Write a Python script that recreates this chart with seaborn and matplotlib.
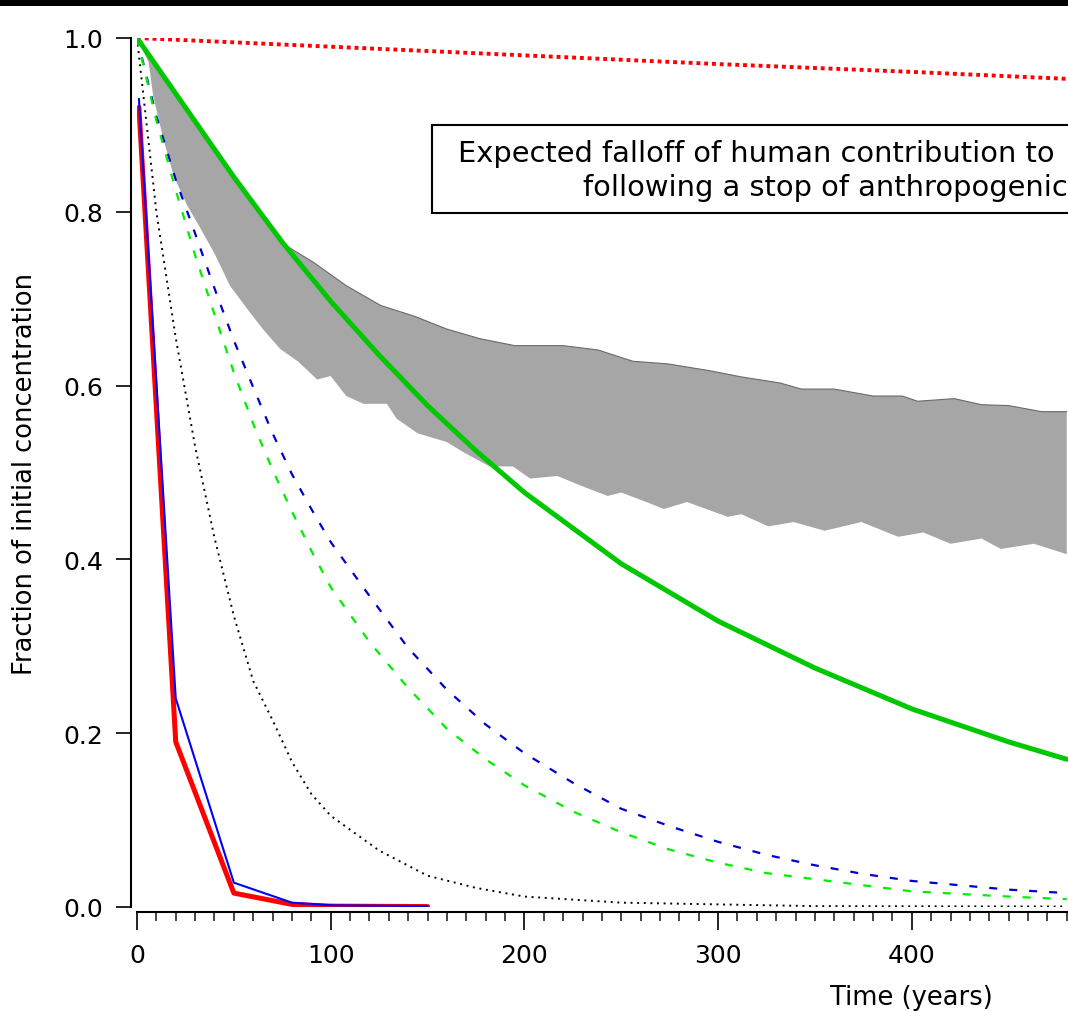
import numpy as np
import pandas as pd
import matplotlib
matplotlib.use("Agg")
import matplotlib.pyplot as plt
from matplotlib.patches import Rectangle
import seaborn as sns

# ---------------- data ----------------
red_dot_t = [0, 100, 200, 300, 400, 480]
red_dot_v = [1.0, 0.99, 0.98, 0.97, 0.961, 0.953]

band_up_t = [0, 25, 50, 74, 91, 108, 126, 143, 160, 177, 195, 220, 238, 256, 274,
             296, 312, 332, 343, 360, 380, 395, 403, 422, 436, 450, 467, 480]
band_up_v = [1.0, 0.92, 0.84, 0.765, 0.742, 0.715, 0.692, 0.68, 0.665, 0.654, 0.646,
             0.646, 0.641, 0.628, 0.625, 0.617, 0.61, 0.603, 0.596, 0.596, 0.588,
             0.588, 0.582, 0.585, 0.578, 0.577, 0.57, 0.57]
band_lo_t = [0, 6, 8.4, 13.6, 19, 26, 33, 40, 48, 57, 65, 74, 83, 93, 100, 108, 117,
             129, 134, 145, 160, 168, 182, 194, 203, 217, 229, 243, 250, 263, 272,
             284, 305, 312, 326, 339, 355, 374, 393, 406, 420, 436, 446, 463, 480]
band_lo_v = [1.0, 0.972, 0.933, 0.884, 0.841, 0.807, 0.78, 0.752, 0.715, 0.688, 0.665,
             0.642, 0.628, 0.607, 0.611, 0.588, 0.579, 0.579, 0.562, 0.545, 0.535,
             0.524, 0.507, 0.507, 0.493, 0.496, 0.485, 0.473, 0.477, 0.466, 0.458,
             0.466, 0.449, 0.452, 0.438, 0.443, 0.433, 0.443, 0.426, 0.431, 0.418,
             0.424, 0.412, 0.418, 0.406]

green_t = [0, 25, 50, 75, 100, 125, 150, 175, 200, 250, 300, 350, 400, 450, 480]
green_v = [1.0, 0.92, 0.84, 0.765, 0.697, 0.635, 0.577, 0.525, 0.477, 0.395, 0.329,
           0.275, 0.228, 0.19, 0.17]

dash_t = [0, 10, 20, 30, 40, 50, 60, 70, 80, 90, 100, 120, 140, 160, 180, 200, 225,
          250, 275, 300, 325, 350, 375, 400, 425, 450, 480]
blue_dash_v = [1.0, 0.91, 0.837, 0.775, 0.712, 0.652, 0.598, 0.545, 0.498, 0.458, 0.42,
               0.358, 0.298, 0.25, 0.21, 0.177, 0.143, 0.113, 0.093, 0.075, 0.06,
               0.048, 0.038, 0.030, 0.025, 0.020, 0.016]
green_dash_v = [1.0, 0.905, 0.825, 0.75, 0.682, 0.615, 0.556, 0.503, 0.455, 0.41, 0.368,
                0.305, 0.252, 0.205, 0.17, 0.14, 0.11, 0.086, 0.066, 0.051, 0.039,
                0.032, 0.025, 0.018, 0.015, 0.012, 0.009]

black_t = [0, 10, 20, 30, 40, 50, 60, 70, 80, 90, 100, 125, 150, 175, 200, 250, 300,
           350, 400, 480]
black_v = [1.0, 0.80, 0.655, 0.53, 0.425, 0.335, 0.26, 0.215, 0.167, 0.13, 0.105, 0.065,
           0.036, 0.022, 0.012, 0.005, 0.003, 0.001, 0.0008, 0.0005]

short_t = [1, 20, 50, 80, 100, 150]
red_v = [0.92, 0.19, 0.016, 0.003, 0.001, 0.0005]
blue_v = [0.93, 0.24, 0.028, 0.005, 0.002, 0.001]

xticks = [0, 100, 200, 300, 400]
yticks = [0.0, 0.2, 0.4, 0.6, 0.8, 1.0]
ylabel = "Fraction of initial concentration"
xlabel = "Time (years)"
title1 = "Expected falloff of human contribution to"
title2 = "following a stop of anthropogenic"

# ---------------- figure ----------------
sns.set_theme(style="ticks")
plt.rcParams["font.family"] = ["DejaVu Sans"]

W, H = 1068, 1012
fig = plt.figure(figsize=(W / 100, H / 100), dpi=100)
fig.patch.set_facecolor("white")

x0px, x1px = 137, 1068
ytop, ybot = 39, 908
ax = fig.add_axes([x0px / W, (H - ybot) / H, (x1px - x0px) / W, (ybot - ytop) / H])
ax.set_facecolor("white")
ax.set_xlim(0, (x1px - x0px) / 1.937)
ax.set_ylim(0, 1)

# gray CO2 band
poly_x = np.concatenate([band_up_t, band_lo_t[::-1]])
poly_y = np.concatenate([band_up_v, band_lo_v[::-1]])
ax.fill(poly_x, poly_y, facecolor="#a6a6a6", edgecolor="none", zorder=1)
sns.lineplot(x=band_up_t, y=band_up_v, ax=ax, color="#6a6a6a", linewidth=0.8,
             sort=False, estimator=None, zorder=1.5)

def line(t, v, **kw):
    sns.lineplot(x=t, y=v, ax=ax, sort=False, estimator=None, **kw)

line(red_dot_t, red_dot_v, color="#ff0000", linewidth=2.8, linestyle=(0, (1.0, 1.0)),
     zorder=3)
line(green_t, green_v, color="#00c800", linewidth=3.6, zorder=4)
line(black_t, black_v, color="black", linewidth=1.4, linestyle=(0, (1.0, 2.4)), zorder=3)
line(dash_t, blue_dash_v, color="#0000cc", linewidth=1.6, linestyle=(0, (3.6, 5.4)),
     zorder=3)
line(dash_t, green_dash_v, color="#00ee00", linewidth=1.6, linestyle=(0, (3.6, 5.4)),
     zorder=3)
line(short_t, red_v, color="#ff0000", linewidth=3.6, zorder=5)
line(short_t, blue_v, color="#0000ff", linewidth=1.5, zorder=6)

# axes styling
for s in ["top", "right"]:
    ax.spines[s].set_visible(False)
ax.spines["left"].set_position(("outward", 4.3))
ax.spines["bottom"].set_position(("outward", 3.6))
for s in ["left", "bottom"]:
    ax.spines[s].set_linewidth(1.5)
    ax.spines[s].set_color("black")

ax.set_xticks(xticks)
ax.set_xticks(np.arange(0, 490, 10), minor=True)
ax.set_yticks(yticks)
ax.set_yticklabels([f"{v:.1f}" for v in yticks])
ax.tick_params(axis="x", which="major", direction="out", length=13, width=1.2,
               pad=9, labelsize=18, colors="black")
ax.tick_params(axis="x", which="minor", direction="out", length=6.5, width=1.2)
ax.tick_params(axis="y", which="major", direction="out", length=11, width=1.2,
               pad=9, labelsize=18, colors="black")

ax.set_ylabel(ylabel, fontsize=18.5, color="black")
ax.yaxis.set_label_coords(-(137 - 25) / (x1px - x0px), 0.5)
ax.yaxis.label.set_verticalalignment("center")
ax.set_xlabel(xlabel, fontsize=18.5, color="black")
ax.xaxis.set_label_coords((911 - x0px) / (x1px - x0px), -(998 - ybot) / (ybot - ytop))
ax.xaxis.label.set_verticalalignment("center")

# title box (runs off the right edge like the reference)
fig.patches.append(Rectangle((432 / W, (H - 214) / H), (W + 50 - 432) / W, 88 / H,
                             transform=fig.transFigure, facecolor="white",
                             edgecolor="black", linewidth=1.5, zorder=10))
fig.text(458 / W, 1 - 154 / H, title1, fontsize=20.8, ha="left", va="center",
         color="black", zorder=11)
fig.text(583 / W, 1 - 188 / H, title2, fontsize=20.8, ha="left", va="center",
         color="black", zorder=11)

# black strip across the top
fig.patches.append(Rectangle((0, 1 - 7 / H), 1, 7 / H, transform=fig.transFigure,
                             facecolor="black", edgecolor="none", zorder=12))

fig.savefig("out.png", dpi=100, facecolor="white")
